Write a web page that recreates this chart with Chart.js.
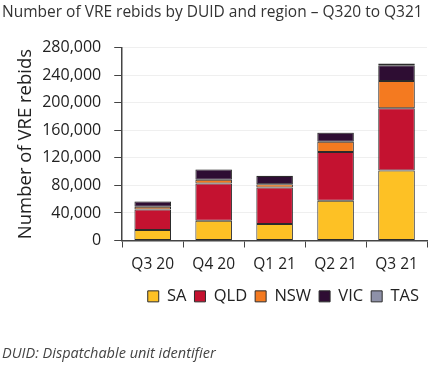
<!DOCTYPE html>
<html>
<head>
<meta charset="utf-8">
<script src="https://cdn.jsdelivr.net/npm/chart.js@4"></script>
<style>
  html, body { margin: 0; padding: 0; background: #fff; }
  #wrap { width: 433px; height: 369px; }
</style>
</head>
<body>
<div id="wrap"><canvas id="grafico"></canvas></div>
<script>
// dados
const trimestres = ['Q3 20', 'Q4 20', 'Q1 21', 'Q2 21', 'Q3 21'];
const sa  = [15300, 28800, 23900, 57600, 101700];
const qld = [29800, 53800, 52900, 70700, 90400];
const nsw = [3900, 5700, 4800, 15200, 39300];
const vic = [7600, 14900, 12100, 13000, 23100];
const tas = [300, 300, 300, 300, 2400];

const fonte = '"Open Sans", "Noto Sans", sans-serif';
const borda = '#2b2b2b';

function serie(nome, dados, cor) {
  return {
    label: nome,
    data: dados,
    backgroundColor: cor,
    borderColor: borda,
    borderWidth: 1,
    borderSkipped: false,
    barPercentage: 0.6,
    categoryPercentage: 1
  };
}

new Chart(document.getElementById('grafico'), {
  type: 'bar',
  data: {
    labels: trimestres,
    datasets: [
      serie('SA', sa, '#FDC125'),
      serie('QLD', qld, '#C41230'),
      serie('NSW', nsw, '#F47A20'),
      serie('VIC', vic, '#2E0D33'),
      serie('TAS', tas, '#8E91A8')
    ]
  },
  options: {
    responsive: true,
    maintainAspectRatio: false,
    animation: false,
    layout: { padding: { left: 2, right: 6, top: 0, bottom: 0 } },
    plugins: {
      title: {
        display: true,
        text: 'Number of VRE rebids by DUID and region \u2013 Q320 to Q321',
        align: 'start',
        color: '#333',
        font: { family: fonte, size: 15.5, weight: 'normal' },
        padding: { top: 3, bottom: 26 }
      },
      subtitle: {
        display: true,
        position: 'bottom',
        text: 'DUID: Dispatchable unit identifier',
        align: 'start',
        color: '#444',
        font: { family: fonte, size: 14.5, style: 'italic' },
        padding: { top: 31, bottom: 6 }
      },
      legend: {
        position: 'bottom',
        align: 'end',
        labels: {
          color: '#222',
          boxWidth: 11,
          boxHeight: 11,
          padding: 8,
          font: { family: fonte, size: 16.5 }
        }
      },
      tooltip: { enabled: false }
    },
    scales: {
      x: {
        stacked: true,
        afterFit: s => { s.height -= 2; },
        grid: {
          offset: true,
          drawOnChartArea: false,
          color: '#444',
          tickLength: 7
        },
        border: { color: '#444', width: 1.5 },
        ticks: {
          color: '#222',
          padding: 8,
          font: { family: fonte, size: 15.5 }
        }
      },
      y: {
        stacked: true,
        min: 0,
        max: 280000,
        afterFit: s => { s.width -= 8; },
        grid: {
          color: '#efefef',
          tickColor: '#444',
          tickLength: 8
        },
        border: { color: '#444', width: 1.5 },
        ticks: {
          stepSize: 40000,
          color: '#222',
          padding: 13,
          font: { family: fonte, size: 16 },
          callback: v => v.toLocaleString('en-US')
        },
        title: {
          display: true,
          text: 'Number of VRE rebids',
          color: '#222',
          font: { family: fonte, size: 18.5 },
          padding: { top: 13, bottom: 0 }
        }
      }
    }
  }
});
</script>
</body>
</html>
